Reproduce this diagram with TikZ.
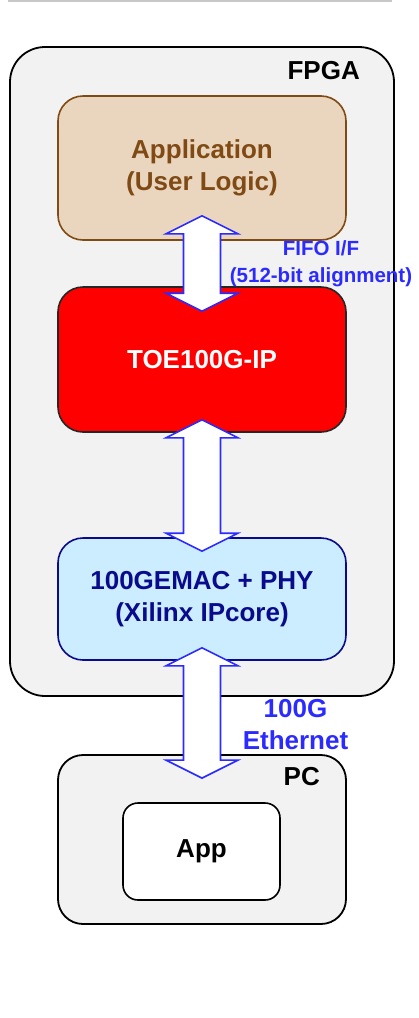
\documentclass[tikz,border=0pt]{standalone}
\usepackage{fontspec}
\setmainfont{Liberation Sans}
\usepackage{tikz}
\usepackage{xcolor}
\usetikzlibrary{
    positioning,
    calc
}
\definecolor{Painel}{HTML}{F2F2F2}
\definecolor{Areia}{HTML}{EAD6BF}
\definecolor{Castanho}{HTML}{7F4A14}
\definecolor{Vermelho}{HTML}{FF0000}
\definecolor{CeuClaro}{HTML}{CCECFF}
\definecolor{Marinho}{HTML}{0A0A8C}
\definecolor{AzulVivo}{HTML}{2B2BFF}
\definecolor{Linha}{HTML}{C8C8C8}

\tikzset{
    bloco/.style={
        draw,
        line width=1.6pt,
        rounded corners=25pt,
        minimum width=288pt,
        align=center,
        inner sep=0pt,
        font=\fontsize{26}{32}\selectfont\bfseries
    },
    moldura/.style={
        draw=black,
        fill=Painel,
        line width=1.8pt,
        rounded corners=35pt,
        inner sep=0pt
    },
    rotulo/.style={
        inner sep=0pt,
        align=center,
        font=\fontsize{26}{32}\selectfont\bfseries
    },
    barramento/.style={
        draw=AzulVivo,
        fill=white,
        line width=1.6pt,
        line join=miter
    }
}

% seta larga com duas pontas entre dois pontos
\newcommand{\setadupla}[2]{%
    \draw[barramento] let \p1=(#1), \p2=(#2) in
        (\p1) -- (\x1+36pt,\y1-18pt) -- (\x1+18.5pt,\y1-18pt)
        -- (\x1+18.5pt,\y2+18pt) -- (\x1+36pt,\y2+18pt) -- (\p2)
        -- (\x1-36pt,\y2+18pt) -- (\x1-18.5pt,\y2+18pt)
        -- (\x1-18.5pt,\y1-18pt) -- (\x1-36pt,\y1-18pt) -- cycle;%
}

\begin{document}
\begin{tikzpicture}[x=1pt,y=-1pt]

    \useasboundingbox (0,0) rectangle (419,1018);

    % linha cinza no topo
    \draw[Linha, line width=2pt] (8,1) -- (392,1);

    % caixa FPGA
    \node[moldura, minimum width=384pt, minimum height=649pt]
        (fpga) at (202,371.5) {};
    \node[rotulo, anchor=east] (fpgarot) at (360,71) {FPGA};

    % blocos internos
    \node[bloco, draw=Castanho, fill=Areia, text=Castanho,
          minimum height=144pt] (aplic) at (202,168)
        {Application\\(User Logic)};
    \node[bloco, draw=black!85, fill=Vermelho, text=white,
          minimum height=145pt] (toe) at (202,359.5)
        {TOE100G-IP};
    \node[bloco, draw=Marinho, fill=CeuClaro, text=Marinho,
          minimum height=122pt] (emac) at (202,599)
        {100GEMAC + PHY\\(Xilinx IPcore)};

    % caixa PC
    \node[moldura, rounded corners=25pt, minimum width=288pt,
          minimum height=169pt] (pc) at (202,839.5) {};
    \node[rotulo, anchor=east] (pcrot) at (320,777) {PC};
    \node[bloco, draw=black, fill=white, text=black,
          rounded corners=15pt, minimum width=157pt,
          minimum height=97pt] (pcapp) at (201.5,851.5) {App};

    % setas
    \setadupla{$(aplic.south)+(0,-25)$}{$(toe.north)+(0,25)$}
    \setadupla{$(toe.south)+(0,-13)$}{$(emac.north)+(0,14)$}
    \setadupla{$(emac.south)+(0,-13)$}{$(pc.north)+(0,24)$}

    % legendas das ligacoes
    \node[rotulo, text=AzulVivo, font=\fontsize{20.5}{27}\selectfont\bfseries]
        (fifo) at (321,264) {FIFO I/F\\(512-bit alignment)};
    \node[rotulo, text=AzulVivo]
        (ether) at (295.5,725) {100G\\Ethernet};

\end{tikzpicture}
\end{document}
